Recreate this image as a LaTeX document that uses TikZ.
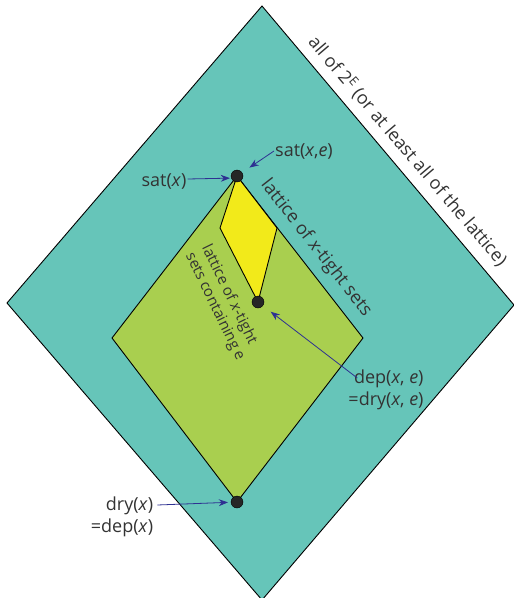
\documentclass[tikz,border=0pt]{standalone}
\usepackage{fontspec}
\setmainfont{Open Sans}
\usetikzlibrary{calc}
\usetikzlibrary{arrows.meta}
\tikzset{>={Stealth[scale=1.4]}}
\definecolor{outerfill}{HTML}{66C5B9}
\definecolor{innerfill}{HTML}{A9CF4F}
\definecolor{smallfill}{HTML}{F2EA1A}
\definecolor{arrowblue}{HTML}{2E3192}
\definecolor{textgrey}{HTML}{333333}

\begin{document}
\begin{tikzpicture}[x=1pt,y=-1pt,
  lbl/.style={text=textgrey, font=\fontsize{18}{22}\selectfont, inner sep=1pt},
  pointer/.style={->, draw=arrowblue, line width=0.8pt}]
  \useasboundingbox (0,0) rectangle (514,598);

  % 坐标点定义
  \coordinate (OT) at (262,6);
  \coordinate (OR) at (514,305);
  \coordinate (OB) at (262,600);
  \coordinate (OL) at (7,303);
  \coordinate (IT) at (237,176);
  \coordinate (IR) at (363,338);
  \coordinate (IB) at (237,502);
  \coordinate (IL) at (112,338);
  \coordinate (YL) at (220,228);
  \coordinate (YR) at (277,228);
  \coordinate (YB) at (258,302);

  % 区域
  \draw[fill=outerfill, line width=0.9pt] (OT) -- (OR) -- (OB) -- (OL) -- cycle;
  \draw[fill=innerfill, line width=0.9pt] (IT) -- (IR) -- (IB) -- (IL) -- cycle;
  \draw[fill=smallfill, line width=0.9pt] (IT) -- (YR) -- (YB) -- (YL) -- cycle;

  % 点标记
  \draw[fill=black!85] (IT) circle (6pt);
  \draw[fill=black!85] (YB) circle (6pt);
  \draw[fill=black!85] (IB) circle (6pt);

  % 区域标签
  \node[lbl, rotate=-49.5] (alltext) at (408,151) {all of 2\textsuperscript{E} (or at least all of the lattice)};
  \node[lbl, rotate=-52] (xtight) at (316,248) {lattice of \textit{x}-tight sets};
  \node[lbl, rotate=-64, align=left, font=\fontsize{15}{18}\selectfont] (xtighte) at (223,303)
    {lattice of \textit{x}-tight\\sets containing e};

  % 点标签
  \node[lbl] (satx) at (164,181) {sat(\textit{x})};
  \node[lbl] (satxe) at (304,151) {sat(\textit{x},\textit{e})};
  \node[lbl, align=right] (depxe) at (386,390) {dep(\textit{x}, \textit{e})\\=dry(\textit{x}, \textit{e})};
  \node[lbl, align=right] (dryx) at (122,517) {dry(\textit{x})\\=dep(\textit{x})};

  % 箭头
  \draw[pointer, shorten >=7pt] ($(satx.east)+(0,-2)$) -- ($(IT)+(0,2)$);
  \draw[pointer, shorten >=15pt] (satxe.west) -- (IT);
  \draw[pointer, shorten >=16pt] ($(depxe.west)+(10,-12)$) -- (YB);
  \draw[pointer, shorten >=9pt] ($(dryx.east)+(3,-12)$) -- (IB);
\end{tikzpicture}
\end{document}
